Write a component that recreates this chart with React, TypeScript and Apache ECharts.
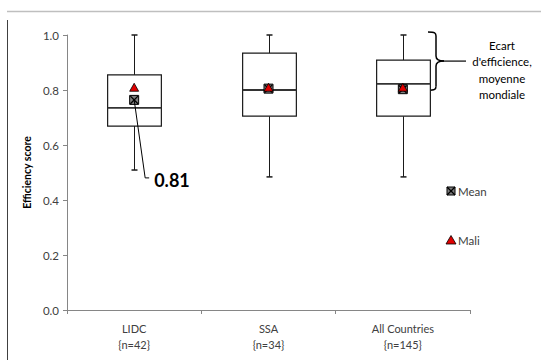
import React, { useEffect, useRef } from "react";
import * as echarts from "echarts";

const categories = ["LIDC", "SSA", "All Countries"];
const sampleSizes = ["{n=42}", "{n=34}", "{n=145}"];
// [min, q1, median, q3, max]
const boxStats = [
  [0.509, 0.669, 0.735, 0.855, 1.0],
  [0.484, 0.705, 0.8, 0.934, 1.0],
  [0.484, 0.705, 0.822, 0.909, 1.0],
];
const meanValues = [0.764, 0.805, 0.803];
const maliValues = [0.81, 0.81, 0.81];
const annotationLabel = "0.81";
const braceText = ["Ecart", "d'efficience,", "moyenne", "mondiale"];

const FONT = "Lato, 'Liberation Sans', sans-serif";
const XPATH =
  "path://M0,0 L1.2,0 L10,8.8 L10,10 L8.8,10 L0,1.2 Z M10,0 L10,1.2 L1.2,10 L0,10 L0,8.8 L8.8,0 Z";

export default function App() {
  const ref = useRef<HTMLDivElement>(null);
  useEffect(() => {
    if (!ref.current) return;
    const chart = echarts.init(ref.current, undefined, { renderer: "svg" });
    const option: any = {
      animation: false,
      backgroundColor: "#ffffff",
      grid: { left: 67, right: 71, top: 35, bottom: 50 },
      xAxis: {
        type: "category",
        data: categories,
        axisLine: { lineStyle: { color: "#868686", width: 1 } },
        axisTick: { show: true, length: 4, lineStyle: { color: "#868686" } },
        axisLabel: {
          color: "#404040",
          fontFamily: FONT,
          fontSize: 11,
          lineHeight: 16,
          margin: 10,
          formatter: (v: string) => v + "\n" + sampleSizes[categories.indexOf(v)],
        },
        splitLine: { show: false },
      },
      yAxis: {
        type: "value",
        min: 0,
        max: 1,
        interval: 0.2,
        name: "Efficiency score",
        nameLocation: "middle",
        nameGap: 34,
        nameTextStyle: { color: "#000", fontFamily: FONT, fontSize: 10.5, fontWeight: "bold" },
        axisLine: { show: true, lineStyle: { color: "#868686", width: 1 } },
        axisTick: { show: true, length: 4, lineStyle: { color: "#868686" } },
        axisLabel: {
          color: "#404040",
          fontFamily: FONT,
          fontSize: 11.5,
          margin: 8,
          formatter: (v: number) => v.toFixed(1),
        },
        splitLine: { show: false },
      },
      series: [
        {
          type: "custom",
          name: "box",
          data: boxStats.map((s, i) => [i, ...s]),
          encode: { x: 0, y: [1, 2, 3, 4, 5] },
          renderItem: (params: any, api: any) => {
            const x = api.value(0);
            const lo = api.coord([x, api.value(1)]);
            const q1 = api.coord([x, api.value(2)]);
            const med = api.coord([x, api.value(3)]);
            const q3 = api.coord([x, api.value(4)]);
            const hi = api.coord([x, api.value(5)]);
            const bw = api.size([1, 0])[0] * 0.4;
            const cx = Math.round(lo[0]) + 0.5;
            const half = bw / 2;
            const cap = 3;
            const ls = { stroke: "#1a1a1a", lineWidth: 1 };
            return {
              type: "group",
              children: [
                { type: "line", shape: { x1: cx, y1: hi[1], x2: cx, y2: q3[1] }, style: ls },
                { type: "line", shape: { x1: cx, y1: q1[1], x2: cx, y2: lo[1] }, style: ls },
                { type: "line", shape: { x1: cx - cap, y1: hi[1], x2: cx + cap, y2: hi[1] }, style: { stroke: "#1a1a1a", lineWidth: 1.5 } },
                { type: "line", shape: { x1: cx - cap, y1: lo[1], x2: cx + cap, y2: lo[1] }, style: { stroke: "#1a1a1a", lineWidth: 1.5 } },
                {
                  type: "rect",
                  shape: { x: cx - half, y: q3[1], width: bw, height: q1[1] - q3[1] },
                  style: { fill: "#ffffff", stroke: "#1a1a1a", lineWidth: 1.2 },
                },
                {
                  type: "line",
                  shape: { x1: cx - half, y1: med[1], x2: cx + half, y2: med[1] },
                  style: { stroke: "#333333", lineWidth: 1.8 },
                },
              ],
            };
          },
          z: 2,
        },
        {
          type: "scatter",
          name: "Mean",
          data: meanValues.map((v, i) => [i, v]),
          symbol: "rect",
          symbolSize: 9,
          itemStyle: { color: "#7f7f7f", borderColor: "#000", borderWidth: 1, opacity: 1 },
          z: 3,
        },
        {
          type: "scatter",
          name: "MeanX",
          data: meanValues.map((v, i) => [i, v]),
          symbol: XPATH,
          symbolSize: 8,
          itemStyle: { color: "#000", opacity: 1 },
          z: 4,
          silent: true,
        },
        {
          type: "scatter",
          name: "Mali",
          data: maliValues.map((v, i) => [i, v]),
          symbol: "triangle",
          symbolSize: [9, 8],
          itemStyle: { color: "#e00000", borderColor: "#000", borderWidth: 0.8, opacity: 1 },
          z: 5,
        },
      ],
    };
    chart.setOption(option);

    const p = chart.convertToPixel({ gridIndex: 0 }, [0, meanValues[0]]) as number[];
    const lx = p[0] + 11;
    const ly = p[1] + 78;
    const gy = chart.convertToPixel({ gridIndex: 0 }, [0, 1.0]) as number[];
    const gm = chart.convertToPixel({ gridIndex: 0 }, [2, meanValues[2]]) as number[];
    const braceX = 428;
    const bTop = gy[1] - 3;
    const bBot = gm[1] + 1;
    const bMid = (bTop + bBot) / 2;
    const bs = { stroke: "#000", lineWidth: 1.5, fill: null };
    const legendX = 451;
    const legendY1 = 191;
    const legendY2 = 240;

    chart.setOption({
      graphic: [
        { type: "line", shape: { x1: 7, y1: 11.5, x2: 541, y2: 11.5 }, style: { stroke: "#bfbfbf", lineWidth: 1.5 } },
        { type: "line", shape: { x1: 7.5, y1: 20, x2: 7.5, y2: 360 }, style: { stroke: "#404040", lineWidth: 1 } },
        {
          type: "polyline",
          shape: { points: [[p[0], p[1]], [lx, ly], [lx + 4, ly]] },
          style: { stroke: "#000", lineWidth: 1, fill: null },
          z: 10,
        },
        {
          type: "text",
          x: lx + 9,
          y: ly + 2,
          style: {
            text: annotationLabel,
            fontFamily: FONT,
            fontWeight: "bold",
            fontSize: 18,
            fill: "#000",
            verticalAlign: "middle",
          },
          z: 10,
        },
        // brace
        { type: "bezierCurve", shape: { x1: braceX, y1: bTop, x2: braceX + 8, y2: bTop + 4, cpx1: braceX + 7, cpy1: bTop, cpx2: braceX + 8, cpy2: bTop + 1 }, style: bs },
        { type: "line", shape: { x1: braceX + 8, y1: bTop + 4, x2: braceX + 8, y2: bMid - 5 }, style: bs },
        { type: "bezierCurve", shape: { x1: braceX + 8, y1: bMid - 5, x2: braceX + 16, y2: bMid, cpx1: braceX + 8, cpy1: bMid - 1, cpx2: braceX + 12, cpy2: bMid }, style: bs },
        { type: "bezierCurve", shape: { x1: braceX + 16, y1: bMid, x2: braceX + 8, y2: bMid + 5, cpx1: braceX + 12, cpy1: bMid, cpx2: braceX + 8, cpy2: bMid + 1 }, style: bs },
        { type: "line", shape: { x1: braceX + 8, y1: bMid + 5, x2: braceX + 8, y2: bBot - 4 }, style: bs },
        { type: "bezierCurve", shape: { x1: braceX + 8, y1: bBot - 4, x2: braceX, y2: bBot, cpx1: braceX + 8, cpy1: bBot - 1, cpx2: braceX + 7, cpy2: bBot }, style: bs },
        { type: "line", shape: { x1: braceX + 16, y1: bMid, x2: 466, y2: bMid }, style: { stroke: "#000", lineWidth: 1.2 } },
        ...braceText.map((t, i) => ({
          type: "text",
          x: 502,
          y: 45 + i * 16.5,
          style: {
            text: t,
            fontFamily: FONT,
            fontSize: 11.5,
            fill: "#000",
            align: "center",
            verticalAlign: "middle",
          },
        })),
        // legend
        { type: "rect", shape: { x: legendX - 4, y: legendY1 - 4, width: 8, height: 8 }, style: { fill: "#7f7f7f", stroke: "#000", lineWidth: 1 } },
        { type: "line", shape: { x1: legendX - 4, y1: legendY1 - 4, x2: legendX + 4, y2: legendY1 + 4 }, style: { stroke: "#000", lineWidth: 1.2 } },
        { type: "line", shape: { x1: legendX + 4, y1: legendY1 - 4, x2: legendX - 4, y2: legendY1 + 4 }, style: { stroke: "#000", lineWidth: 1.2 } },
        { type: "text", x: legendX + 7, y: legendY1, style: { text: "Mean", fontFamily: FONT, fontSize: 11.5, fill: "#404040", verticalAlign: "middle" } },
        { type: "polygon", shape: { points: [[legendX, legendY2 - 4.5], [legendX + 5, legendY2 + 4], [legendX - 5, legendY2 + 4]] }, style: { fill: "#e00000", stroke: "#000", lineWidth: 0.8 } },
        { type: "text", x: legendX + 7, y: legendY2, style: { text: "Mali", fontFamily: FONT, fontSize: 11.5, fill: "#404040", verticalAlign: "middle" } },
      ],
    });

    return () => chart.dispose();
  }, []);
  return <div ref={ref} style={{ width: 541, height: 360, position: "absolute", left: 0, top: 0 }} />;
}
